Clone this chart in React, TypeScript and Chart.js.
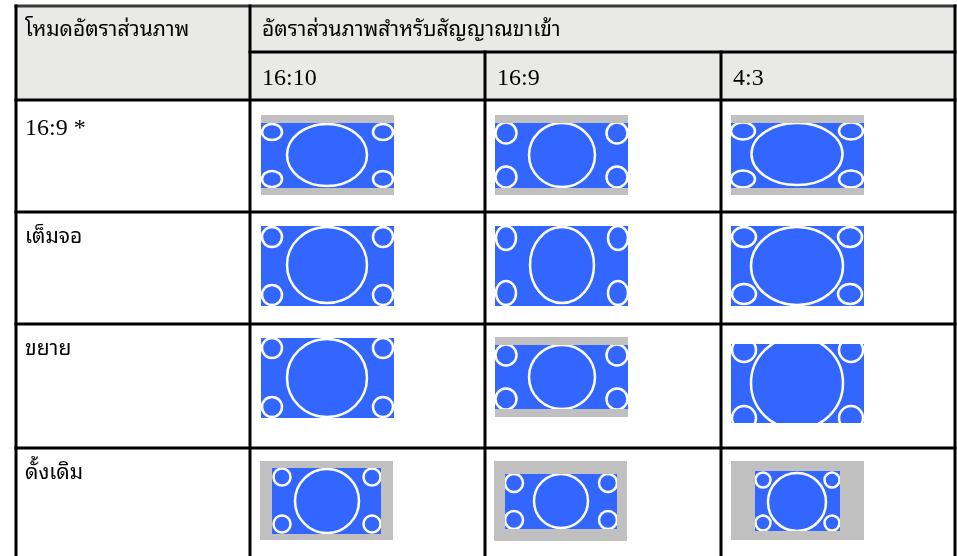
import React, { useEffect, useRef } from "react";
import { Chart, registerables } from "chart.js";

Chart.register(...registerables);

// ---- content ----
const cornerHeader = "โหมดอัตราส่วนภาพ";
const groupHeader = "อัตราส่วนภาพสำหรับสัญญาณขาเข้า";
const columnHeaders = ["16:10", "16:9", "4:3"];
const rowLabels = ["16:9 *", "เต็มจอ", "ขยาย", "ดั้งเดิม"];

// thumbnail description per row (mode) and column (input signal), relative to cell origin
type Thumb = {
  frame: number[] | null;
  screen: number[];
  big: number[];
  small: number[];
};
const thumbsWide: Thumb[] = [
  { frame: [11, 15, 144, 95], screen: [11, 23, 144, 88], big: [77, 55, 40, 31], small: [22, 133, 32, 79, 10, 8] },
  { frame: [10, 15, 143, 95], screen: [10, 23, 143, 88], big: [77, 55, 33, 32], small: [21, 132, 33, 77, 10.5, 10.5] },
  { frame: [10, 15, 143, 95], screen: [10, 23, 143, 88], big: [76, 54, 45.5, 31], small: [22, 130, 31, 79, 12, 8.5] },
];
const thumbsFull: Thumb[] = [
  { frame: null, screen: [11, 14, 144, 94], big: [77, 53, 40, 38], small: [22, 133, 25, 83, 10, 10] },
  { frame: null, screen: [10, 14, 143, 94], big: [77, 53, 32, 38], small: [21, 133, 26, 81, 10, 12] },
  { frame: null, screen: [10, 14, 143, 94], big: [76, 54, 46, 39], small: [23, 129, 25, 82, 12, 10] },
];
const thumbsZoom: Thumb[] = [
  { frame: null, screen: [11, 14, 144, 94], big: [77, 54, 40, 39], small: [22, 133, 24, 83, 10, 10] },
  { frame: [10, 13, 143, 93], screen: [10, 21, 143, 85], big: [77, 53, 33, 32], small: [21, 132, 31, 75, 10.5, 10.5] },
  { frame: null, screen: [10, 20, 143, 99], big: [76, 59, 46, 46], small: [23, 130, 26, 94, 12, 12] },
];
const thumbsNative: Thumb[] = [
  { frame: [10, 13, 143, 92], screen: [22, 20, 131, 86], big: [77, 53, 32, 32], small: [32, 122, 29, 76, 8.5, 8.5] },
  { frame: [9, 13, 142, 93], screen: [20, 26, 132, 81], big: [76, 53, 27, 27], small: [29, 123, 35, 72, 9, 9] },
  { frame: [10, 13, 143, 92], screen: [34, 23, 119, 83], big: [76, 54, 29, 29], small: [42, 111, 32, 75, 7.5, 7.5] },
];
const thumbRows = [thumbsWide, thumbsFull, thumbsZoom, thumbsNative];

// ---- layout ----
const W = 957;
const H = 556;
const COL_EDGES = [16, 250, 485, 721, 955];
const ROW_EDGES = [6, 52, 100, 212, 324, 448, 620];

const THAI = "'Noto Sans Thai Looped', 'Noto Serif Thai', 'Noto Sans Thai', Tahoma, 'DejaVu Sans', sans-serif";
const SERIF = "'Liberation Serif', 'Times New Roman', " + THAI;

const tablePlugin = {
  id: "tablePlugin",
  afterDraw(chart: any) {
    const ctx: CanvasRenderingContext2D = chart.ctx;
    const sx = chart.scales.x;
    const sy = chart.scales.y;
    const X = (v: number) => sx.getPixelForValue(v);
    const Y = (v: number) => sy.getPixelForValue(v);
    const rect = (x0: number, y0: number, x1: number, y1: number) => {
      const a = X(x0), b = Y(y0), c = X(x1), d = Y(y1);
      return [Math.min(a, c), Math.min(b, d), Math.abs(c - a), Math.abs(d - b)];
    };

    ctx.save();
    ctx.fillStyle = "#ffffff";
    ctx.fillRect(0, 0, chart.width, chart.height);

    // header backgrounds
    ctx.fillStyle = "#e9e9e8";
    const hb = rect(COL_EDGES[0], ROW_EDGES[0], COL_EDGES[4], ROW_EDGES[2]);
    ctx.fillRect(hb[0], hb[1], hb[2], hb[3]);

    // thumbnails
    thumbRows.forEach((row, ri) => {
      row.forEach((t, ci) => {
        const ox = COL_EDGES[ci + 1];
        const oy = ROW_EDGES[ri + 2];
        if (t.frame) {
          const r = rect(ox + t.frame[0], oy + t.frame[1], ox + t.frame[2], oy + t.frame[3]);
          ctx.fillStyle = "#c0c0c0";
          ctx.fillRect(r[0], r[1], r[2], r[3]);
        }
        const s = rect(ox + t.screen[0], oy + t.screen[1], ox + t.screen[2], oy + t.screen[3]);
        ctx.fillStyle = "#3366ff";
        ctx.fillRect(s[0], s[1], s[2], s[3]);
        ctx.save();
        ctx.beginPath();
        ctx.rect(s[0], s[1], s[2], s[3]);
        ctx.clip();
        ctx.strokeStyle = "#ffffff";
        ctx.lineWidth = 2.5;
        const ell = (cx: number, cy: number, rx: number, ry: number) => {
          const px = X(ox + cx), py = Y(oy + cy);
          const prx = Math.abs(X(ox + cx + rx) - px);
          const pry = Math.abs(Y(oy + cy + ry) - py);
          ctx.beginPath();
          ctx.ellipse(px, py, prx, pry, 0, 0, Math.PI * 2);
          ctx.stroke();
        };
        ell(t.big[0], t.big[1], t.big[2], t.big[3]);
        const [xl, xr, yt, yb, rx, ry] = t.small;
        ell(xl, yt, rx, ry);
        ell(xr, yt, rx, ry);
        ell(xl, yb, rx, ry);
        ell(xr, yb, rx, ry);
        ctx.restore();
      });
    });

    // grid lines
    ctx.lineWidth = 3;
    const hline = (y: number, x0: number, x1: number) => {
      ctx.beginPath();
      ctx.moveTo(X(x0) - 1.5, Y(y));
      ctx.lineTo(X(x1) + 1.5, Y(y));
      ctx.stroke();
    };
    const vline = (x: number, y0: number, y1: number) => {
      ctx.beginPath();
      ctx.moveTo(X(x), Y(y0) - 1.5);
      ctx.lineTo(X(x), Y(y1));
      ctx.stroke();
    };
    ctx.strokeStyle = "#3a3a3a";
    hline(ROW_EDGES[0], COL_EDGES[0], COL_EDGES[4]);
    ctx.strokeStyle = "#000000";
    hline(ROW_EDGES[1], COL_EDGES[1], COL_EDGES[4]);
    for (let i = 2; i < ROW_EDGES.length - 1; i++) hline(ROW_EDGES[i], COL_EDGES[0], COL_EDGES[4]);
    vline(COL_EDGES[0], ROW_EDGES[0], ROW_EDGES[6]);
    vline(COL_EDGES[1], ROW_EDGES[0], ROW_EDGES[6]);
    vline(COL_EDGES[2], ROW_EDGES[1], ROW_EDGES[6]);
    vline(COL_EDGES[3], ROW_EDGES[1], ROW_EDGES[6]);
    vline(COL_EDGES[4], ROW_EDGES[0], ROW_EDGES[6]);

    // text
    ctx.fillStyle = "#000000";
    ctx.textBaseline = "alphabetic";
    ctx.textAlign = "left";
    ctx.font = "21px " + THAI;
    ctx.fillText(cornerHeader, X(COL_EDGES[0] + 9), Y(ROW_EDGES[0] + 30));
    ctx.fillText(groupHeader, X(COL_EDGES[1] + 12), Y(ROW_EDGES[0] + 30));
    ctx.font = "24px " + SERIF;
    columnHeaders.forEach((h, i) => {
      ctx.fillText(h, X(COL_EDGES[i + 1] + 12), Y(ROW_EDGES[1] + 33));
    });
    rowLabels.forEach((lab, i) => {
      const isLatin = /^[\x00-\x7F]+$/.test(lab);
      ctx.font = isLatin ? "24px " + SERIF : "21px " + THAI;
      ctx.fillText(lab, X(COL_EDGES[0] + 9), Y(ROW_EDGES[i + 2] + (isLatin ? 35 : 31)));
    });
    ctx.restore();
  },
};

export default function App() {
  const ref = useRef<HTMLCanvasElement | null>(null);
  useEffect(() => {
    if (!ref.current) return;
    const chart = new Chart(ref.current, {
      type: "scatter",
      data: { datasets: [{ data: [], pointRadius: 0 }] },
      options: {
        animation: false,
        responsive: false,
        devicePixelRatio: 1,
        layout: { padding: 0 },
        plugins: { legend: { display: false }, tooltip: { enabled: false } },
        scales: {
          x: { type: "linear", min: 0, max: W, display: false },
          y: { type: "linear", min: 0, max: H, reverse: true, display: false },
        },
      },
      plugins: [tablePlugin],
    });
    return () => chart.destroy();
  }, []);
  return (
    <div style={{ position: "fixed", left: 0, top: 0, width: W, height: H, background: "#fff" }}>
      <canvas ref={ref} width={W} height={H} style={{ display: "block", width: W, height: H }} />
    </div>
  );
}
